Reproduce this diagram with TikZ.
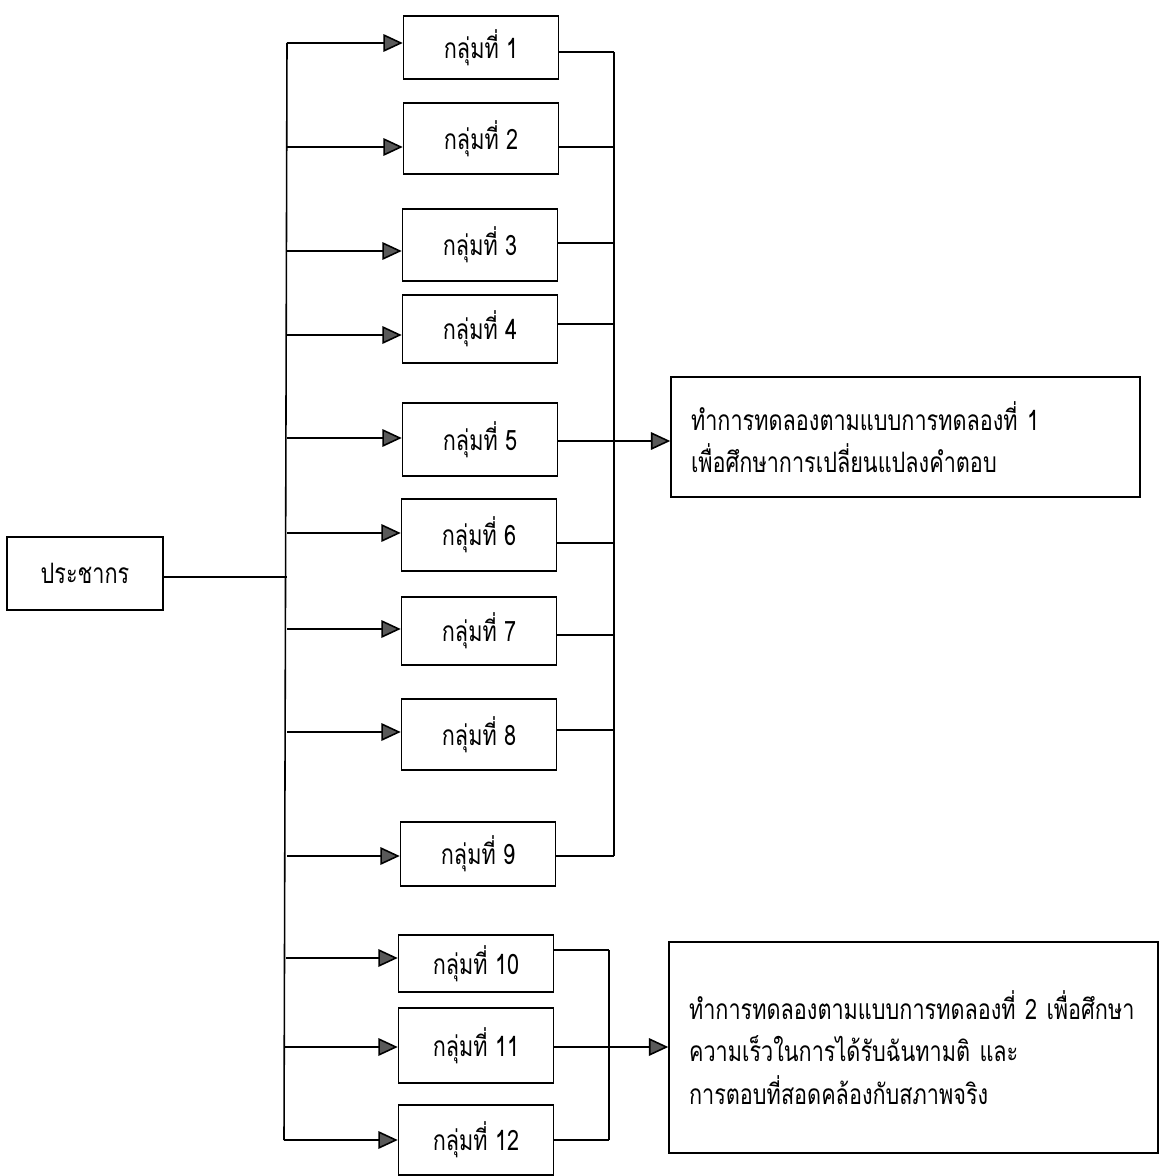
\documentclass[tikz,border=0pt]{standalone}
\usepackage{fontspec}
\newfontfamily\thaifont[Script=Thai,FakeStretch=0.77]{Loma}
\usetikzlibrary{arrows.meta}
\begin{document}
\begin{tikzpicture}[x=0.02cm,y=-0.02cm,
  every node/.style={font=\thaifont\fontsize{16pt}{24pt}\selectfont},
  box/.style={draw, line width=0.9pt, minimum width=3.1cm, inner sep=0pt},
  resbox/.style={draw, line width=0.9pt, align=left, inner xsep=0.4cm, inner ysep=0pt},
  conn/.style={line width=0.9pt},
  arr/.style={line width=0.9pt, -{Triangle[length=11pt,width=10pt,fill=black!65]}}]
\useasboundingbox (0,0) rectangle (1170,1176);

% population
\node[box, minimum width=3.12cm, minimum height=1.46cm] (pop) at (85,573.5) {ประชากร};

% groups
\node[box, minimum height=1.26cm] (g1) at (481,47.5) {กลุ่มที่ 1};
\node[box, minimum height=1.42cm] (g2) at (481,138.5) {กลุ่มที่ 2};
\node[box, minimum height=1.44cm] (g3) at (480,245) {กลุ่มที่ 3};
\node[box, minimum height=1.36cm] (g4) at (480,329) {กลุ่มที่ 4};
\node[box, minimum height=1.46cm] (g5) at (480,439.5) {กลุ่มที่ 5};
\node[box, minimum height=1.44cm] (g6) at (479,535) {กลุ่มที่ 6};
\node[box, minimum height=1.36cm] (g7) at (479,631) {กลุ่มที่ 7};
\node[box, minimum height=1.42cm] (g8) at (479,734.5) {กลุ่มที่ 8};
\node[box, minimum height=1.28cm] (g9) at (478,854) {กลุ่มที่ 9};
\node[box, minimum height=1.14cm] (g10) at (476,963.5) {กลุ่มที่ 10};
\node[box, minimum height=1.50cm] (g11) at (476,1045.5) {กลุ่มที่ 11};
\node[box, minimum height=1.40cm] (g12) at (476,1140) {กลุ่มที่ 12};

% result boxes
\node[resbox, text width=8.58cm, minimum height=2.4cm] (res1) at (905.5,437)
  {\mbox{ทำการทดลองตามแบบการทดลองที่ 1}\\\mbox{เพื่อศึกษาการเปลี่ยนแปลงคำตอบ}};
\node[resbox, text width=8.98cm, minimum height=4.22cm] (res2) at (913.5,1047.5)
  {\mbox{ทำการทดลองตามแบบการทดลองที่ 2 เพื่อศึกษา}\\\mbox{ความเร็วในการได้รับฉันทามติ และ}\\\mbox{การตอบที่สอดคล้องกับสภาพจริง}};

% left bus coordinates
\coordinate (L1) at (287,43);
\coordinate (L2) at (287,147);
\coordinate (L3) at (287,251);
\coordinate (L4) at (287,335);
\coordinate (L5) at (287,438);
\coordinate (L6) at (287,533);
\coordinate (L7) at (287,629);
\coordinate (L8) at (287,732);
\coordinate (L9) at (287,856);
\coordinate (L10) at (286,958);
\coordinate (L11) at (285,1047);
\coordinate (L12) at (284,1140);

% right bus coordinates
\coordinate (R1) at (614,52);
\coordinate (R2) at (614,147);
\coordinate (R3) at (614,243);
\coordinate (R4) at (614,324);
\coordinate (R5) at (614,441);
\coordinate (R6) at (614,543);
\coordinate (R7) at (614,635);
\coordinate (R8) at (614,730);
\coordinate (R9) at (614,856);
\coordinate (R10) at (609,950);
\coordinate (R11) at (609,1047);
\coordinate (R12) at (609,1140);

% population to bus
\draw[conn] (pop.east |- 0,577) -- (L1 |- 0,577);
\draw[conn] (L1) -- (L12);

% arrows into groups
\foreach \i in {1,...,12} {
  \draw[arr] (L\i) -- (L\i -| g\i.west);
}

% outputs
\foreach \i in {1,...,12} {
  \draw[conn] (R\i -| g\i.east) -- (R\i);
}
\draw[conn] (R1) -- (R9);
\draw[conn] (R10) -- (R12);
\draw[arr] (R5) -- (R5 -| res1.west);
\draw[arr] (R11) -- (R11 -| res2.west);
\end{tikzpicture}
\end{document}
